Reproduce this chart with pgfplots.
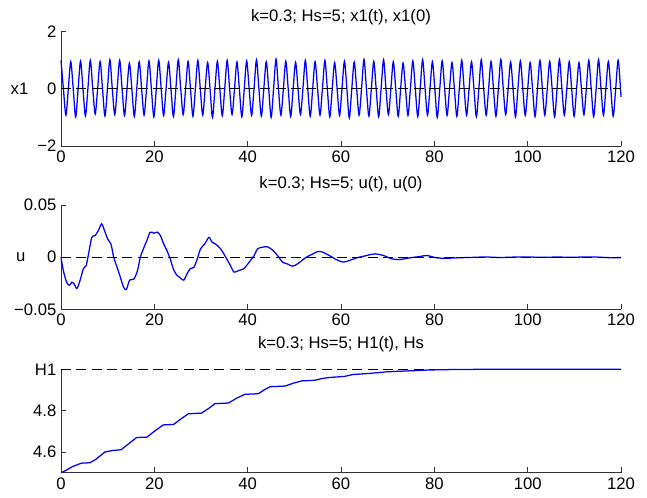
\documentclass[border=0pt]{standalone}
\usepackage{fontspec}
\setmainfont{Liberation Sans}
\usepackage{pgfplots}
\pgfplotsset{compat=1.18}
\begin{document}
\begin{tikzpicture}
\pgfplotsset{
  every axis/.append style={
    scale only axis, width=420pt, xmin=0, xmax=120, xtick={0,20,...,120},
    axis x line*=bottom, axis y line*=left, axis line style={-, black!80, line width=0.7pt},
    xtick pos=left, ytick pos=left, tick align=inside,
    major tick length=4pt, tick style={black!80, line width=0.6pt},
    font=\fontsize{12.5}{15}\selectfont,
    /pgf/number format/assume math mode=true,
    scaled y ticks=false,
    clip=false, anchor=south west,
    title style={at={(0.5,1)}, anchor=base},
  },
  sig/.style={blue, line width=0.95pt},
  ref/.style={black, line width=0.8pt, dash pattern=on 7.5pt off 4pt},
}
\path[use as bounding box] (0,0) rectangle (485.25pt,-373.5pt);

% x1(t)
\begin{axis}[at={(45.75pt,-109.5pt)}, height=85.7pt,
  ymin=-2, ymax=2, ytick={-2,0,2}, yticklabels={−2,0,2},
  title={k=0.3; Hs=5; x1(t), x1(0)}, title style={yshift=2pt}]
\addplot[sig, smooth] coordinates {
(0,1.00) (0.52,0) (1.05,-0.92) (1.57,0)
(2.09,0.95) (2.62,0) (3.14,-0.98) (3.67,0)
(4.19,0.97) (4.71,0) (5.24,-0.95) (5.76,0)
(6.28,1.00) (6.81,0) (7.33,-0.88) (7.85,0)
(8.38,0.96) (8.90,0) (9.42,-0.95) (9.95,0)
(10.47,1.02) (10.99,0) (11.52,-0.90) (12.04,0)
(12.57,1.00) (13.09,0) (13.61,-0.93) (14.14,0)
(14.66,0.90) (15.18,0) (15.71,-0.97) (16.23,0)
(16.76,0.95) (17.28,0) (17.80,-0.92) (18.33,0)
(18.85,0.98) (19.37,0) (19.90,-0.98) (20.42,0)
(20.94,1.00) (21.47,0) (21.99,-0.93) (22.51,0)
(23.04,0.93) (23.56,0) (24.09,-0.97) (24.61,0)
(25.13,1.02) (25.66,0) (26.18,-0.90) (26.70,0)
(27.23,0.96) (27.75,0) (28.27,-0.96) (28.80,0)
(29.32,1.00) (29.85,0) (30.37,-0.92) (30.89,0)
(31.42,0.92) (31.94,0) (32.46,-1.00) (32.99,0)
(33.51,0.97) (34.03,0) (34.56,-0.94) (35.08,0)
(35.61,1.00) (36.13,0) (36.65,-0.90) (37.18,0)
(37.70,0.94) (38.22,0) (38.75,-0.98) (39.27,0)
(39.79,0.98) (40.32,0) (40.84,-0.93) (41.36,0)
(41.89,1.02) (42.41,0) (42.94,-0.95) (43.46,0)
(43.98,0.95) (44.51,0) (45.03,-1.00) (45.55,0)
(46.08,1.04) (46.60,0) (47.12,-0.92) (47.65,0)
(48.17,0.97) (48.69,0) (49.22,-0.97) (49.74,0)
(50.27,0.93) (50.79,0) (51.31,-0.90) (51.84,0)
(52.36,1.00) (52.88,0) (53.41,-0.96) (53.93,0)
(54.45,0.95) (54.98,0) (55.50,-0.92) (56.02,0)
(56.55,1.00) (57.07,0) (57.60,-0.98) (58.12,0)
(58.64,0.92) (59.17,0) (59.69,-0.93) (60.21,0)
(60.74,0.97) (61.26,0) (61.78,-1.02) (62.31,0)
(62.83,0.94) (63.36,0) (63.88,-0.92) (64.40,0)
(64.93,1.03) (65.45,0) (65.97,-0.95) (66.50,0)
(67.02,0.96) (67.54,0) (68.07,-0.98) (68.59,0)
(69.12,1.02) (69.64,0) (70.16,-0.90) (70.69,0)
(71.21,0.95) (71.73,0) (72.26,-0.96) (72.78,0)
(73.30,0.90) (73.83,0) (74.35,-0.93) (74.87,0)
(75.40,0.98) (75.92,0) (76.45,-0.97) (76.97,0)
(77.49,1.02) (78.02,0) (78.54,-0.92) (79.06,0)
(79.59,0.95) (80.11,0) (80.63,-1.00) (81.16,0)
(81.68,0.98) (82.21,0) (82.73,-0.93) (83.25,0)
(83.78,0.92) (84.30,0) (84.82,-0.96) (85.35,0)
(85.87,1.00) (86.39,0) (86.92,-0.92) (87.44,0)
(87.97,0.95) (88.49,0) (89.01,-0.98) (89.54,0)
(90.06,1.02) (90.58,0) (91.11,-0.92) (91.63,0)
(92.15,0.96) (92.68,0) (93.20,-0.96) (93.72,0)
(94.25,1.03) (94.77,0) (95.29,-0.90) (95.82,0)
(96.34,0.94) (96.87,0) (97.39,-0.98) (97.91,0)
(98.44,0.98) (98.96,0) (99.48,-0.93) (100.01,0)
(100.53,0.92) (101.05,0) (101.58,-0.97) (102.10,0)
(102.63,1.00) (103.15,0) (103.67,-0.92) (104.20,0)
(104.72,0.96) (105.24,0) (105.77,-0.98) (106.29,0)
(106.81,1.03) (107.34,0) (107.86,-0.92) (108.38,0)
(108.91,0.95) (109.43,0) (109.96,-0.96) (110.48,0)
(111.00,0.92) (111.53,0) (112.05,-0.90) (112.57,0)
(113.10,1.00) (113.62,0) (114.14,-0.97) (114.67,0)
(115.19,1.02) (115.72,0) (116.24,-0.92) (116.76,0)
(117.29,0.96) (117.81,0) (118.33,-0.96) (118.86,0)
(119.38,1.00) (119.90,0) (120,-0.28)
};
\addplot[ref] coordinates {(0,0) (120,0)};
\node[anchor=east, xshift=-21pt] at (axis cs:0,0) {x1};
\end{axis}

% u(t)
\begin{axis}[at={(45.75pt,-232pt)}, height=78.2pt,
  ymin=-0.05, ymax=0.05, ytick={-0.05,0,0.05}, yticklabels={−0.05,0,0.05},
  title={k=0.3; Hs=5; u(t), u(0)}, title style={yshift=6.2pt}]
\addplot[sig, smooth] coordinates {
(0,0) (0.5,-0.0127) (1.2,-0.024) (1.8,-0.027) (2.3,-0.024) (2.8,-0.0255)
(3.4,-0.030) (4.1,-0.022) (4.8,-0.011) (5.4,-0.008) (5.9,0.003) (6.6,0.019)
(7.3,0.0207) (8.0,0.0255) (8.7,0.032) (9.2,0.027) (10.0,0.0175) (10.7,0.0127)
(11.3,0) (12.0,-0.0096) (12.7,-0.019) (13.4,-0.0287) (14.0,-0.031) (14.7,-0.022)
(15.6,-0.021) (16.4,-0.0127) (17.0,0) (17.8,0.0096) (18.4,0.016) (19.1,0.024)
(19.9,0.023) (20.6,0.024) (21.3,0.0207) (22.0,0.0127) (22.7,0.0064) (23.4,-0.0016)
(24.2,-0.0127) (24.9,-0.0175) (25.6,-0.020) (26.3,-0.022) (27.0,-0.016) (27.7,-0.011)
(28.5,-0.0096) (29.2,-0.0016) (29.9,0.008) (30.8,0.0127) (31.7,0.019) (32.4,0.0143)
(33.1,0.0127) (34.2,0.008) (35.3,0) (36.3,-0.008) (37.1,-0.0143) (38.1,-0.0127)
(39.2,-0.011) (40.3,-0.0048) (41.4,0.0016) (42.1,0.008) (43.2,0.0096) (44.2,0.010)
(45.3,0.007) (46.4,0.0016) (47.5,-0.0048) (48.5,-0.0064) (49.6,-0.0086) (50.7,-0.0064)
(51.8,-0.0025) (52.8,0.0006) (53.9,0.003) (55.0,0.0054) (56.1,0.0048) (57.5,0.0016)
(59.1,-0.0025) (60.5,-0.0047) (61.9,-0.003) (63.4,-0.0006) (65.5,0.0016) (67.3,0.0032)
(69.1,0.0016) (70.9,-0.0016) (72.6,-0.0022) (74.8,-0.0006) (77.0,0.0007) (78.4,0.0016)
(80.5,-0.0006) (82.6,-0.001) (85,-0.0006) (88,-0.0002) (91,0.0002) (94,-0.0003)
(97,0.0001) (100,0.0002) (103,-0.0001) (106,0.0001) (109,0) (112,0.0001)
(115,0.0001) (117,-0.0004) (120,-0.0004)
};
\addplot[ref] coordinates {(0,0) (120,0)};
\node[anchor=east, xshift=-23.25pt] at (axis cs:0,0) {u};
\end{axis}

% H1(t)
\begin{axis}[at={(45.75pt,-354.5pt)}, height=77.5pt,
  ymin=4.5, ymax=5, ytick={4.6,4.8,5}, yticklabels={4.6,4.8,H1},
  title={k=0.3; Hs=5; H1(t), Hs}, title style={yshift=9.5pt}]
\addplot[ref] coordinates {(0,5) (120,5)};
\addplot[sig] coordinates {
(0,4.5) (1,4.51) (2.5,4.53) (4.4,4.546) (6.2,4.548) (7.5,4.565) (9.4,4.60)
(11,4.607) (12.9,4.611) (14.5,4.64) (16.2,4.67) (18.4,4.672) (20,4.70)
(21.9,4.731) (24.1,4.733) (25.7,4.76) (27.3,4.785) (30.1,4.788) (31.6,4.81)
(33,4.834) (35.9,4.837) (37.6,4.86) (39.4,4.879) (42.3,4.882) (43.5,4.90)
(44.8,4.916) (48,4.919) (49.8,4.933) (51.6,4.944) (54.4,4.947) (55.8,4.955)
(57.3,4.96) (60.8,4.966) (62.6,4.975) (66,4.98) (69.8,4.988) (74,4.992)
(79.1,4.997) (84,4.999) (89.8,5.0) (120,5.0)
};
\end{axis}
\end{tikzpicture}
\end{document}
